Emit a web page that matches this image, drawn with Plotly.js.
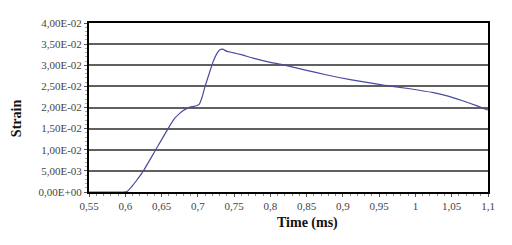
<!DOCTYPE html>
<html><head><meta charset="utf-8">
<script src="https://cdn.plot.ly/plotly-3.0.1.min.js"></script>
<style>html,body{margin:0;padding:0;background:#fff}#c{width:512px;height:245px}</style>
</head><body><div id="c"></div>
<script>
var timeMs = [0.55, 0.58, 0.597, 0.603, 0.609, 0.615, 0.625, 0.642, 0.659, 0.668, 0.675, 0.680, 0.685, 0.692, 0.698, 0.702, 0.706, 0.710, 0.716, 0.721, 0.726, 0.730, 0.734, 0.740, 0.748, 0.760, 0.776, 0.800, 0.818, 0.850, 0.878, 0.910, 0.956, 0.990, 1.025, 1.045, 1.065, 1.085, 1.100];
var strain = [0, 0, 0, 0.0002, 0.0013, 0.0026, 0.0050, 0.0100, 0.0150, 0.0174, 0.0186, 0.0193, 0.0198, 0.0202, 0.0204, 0.0208, 0.0225, 0.0250, 0.0282, 0.0308, 0.0327, 0.0336, 0.0338, 0.0333, 0.0330, 0.0325, 0.0317, 0.0307, 0.0301, 0.0288, 0.0277, 0.0266, 0.0253, 0.0245, 0.0235, 0.0227, 0.0216, 0.0204, 0.0194];
var yTickVals = [0, 0.005, 0.01, 0.015, 0.02, 0.025, 0.03, 0.035, 0.04];
var yTickText = ["0,00E+00", "5,00E-03", "1,00E-02", "1,50E-02", "2,00E-02", "2,50E-02", "3,00E-02", "3,50E-02", "4,00E-02"];
var xTickVals = [0.55, 0.6, 0.65, 0.7, 0.75, 0.8, 0.85, 0.9, 0.95, 1, 1.05, 1.1];
var xTickText = ["0,55", "0,6", "0,65", "0,7", "0,75", "0,8", "0,85", "0,9", "0,95", "1", "1,05", "1,1"];

var serif = "'Liberation Serif', 'Times New Roman', serif";
var font = {family: serif, size: 11, color: "#444"};
var titleFont = {family: serif, size: 14, color: "#111", weight: "bold"};
Plotly.newPlot("c", [{
  x: timeMs, y: strain, type: "scatter", mode: "lines",
  line: {color: "#4b4b9c", width: 1.2, shape: "spline", smoothing: 0.5},
  hoverinfo: "skip"
}], {
  width: 512, height: 245,
  margin: {l: 89, r: 24, t: 23, b: 53},
  paper_bgcolor: "#fff", plot_bgcolor: "#fff",
  showlegend: false,
  font: font,
  xaxis: {
    range: [0.55, 1.1], tickvals: xTickVals, ticktext: xTickText,
    showgrid: false, zeroline: false, showline: true, linecolor: "#000", linewidth: 2,
    mirror: true, ticks: "outside", ticklen: 3, tickcolor: "#555", tickwidth: 1,
    minor: {dtick: 0.01, tick0: 0.55, ticks: "outside", ticklen: 2, tickcolor: "#888", showgrid: false},
    tickfont: font
  },
  yaxis: {
    range: [0, 0.04], tickvals: yTickVals, ticktext: yTickText,
    showgrid: true, gridcolor: "#606060", gridwidth: 2,
    zeroline: false, showline: true, linecolor: "#000", linewidth: 2, mirror: true,
    ticks: "outside", ticklen: 3, tickcolor: "#555",
    minor: {dtick: 0.001, ticks: "outside", ticklen: 2, tickcolor: "#aaa", showgrid: false},
    tickfont: font
  },
  annotations: [
    {text: "Time (ms)", xref: "paper", yref: "paper", x: 0.548, y: -0.182, xanchor: "center", yanchor: "middle", showarrow: false, font: titleFont},
    {text: "Strain", xref: "paper", yref: "paper", x: -0.180, y: 0.438, xanchor: "center", yanchor: "middle", textangle: -90, showarrow: false, font: titleFont}
  ]
}, {displayModeBar: false, staticPlot: true});
</script></body></html>
